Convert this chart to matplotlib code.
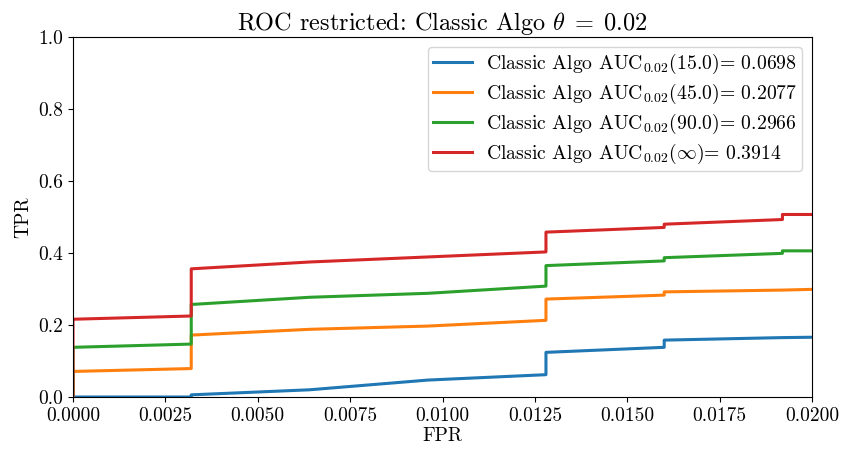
import matplotlib
matplotlib.use("Agg")
import matplotlib.pyplot as plt

plt.rcParams['font.family'] = 'cmr10'
plt.rcParams['mathtext.fontset'] = 'cm'
plt.rcParams['axes.unicode_minus'] = False
plt.rcParams['axes.formatter.use_mathtext'] = True

labels = ["15.0", "45.0", "90.0", r"$\infty$"]
aucs = ["0.0698", "0.2077", "0.2966", "0.3914"]
colors = ["#1f77b4", "#ff7f0e", "#2ca02c", "#d62728"]

fpr_blue = [0.0, 0.0032, 0.0032, 0.0064, 0.0096, 0.0128, 0.0128, 0.0160, 0.0160, 0.0192, 0.0200]
tpr_blue = [0.0, 0.000, 0.006, 0.020, 0.047, 0.062, 0.124, 0.138, 0.158, 0.165, 0.166]

fpr_orange = [0.0, 0.0, 0.0032, 0.0032, 0.0064, 0.0096, 0.0128, 0.0128, 0.0160, 0.0160, 0.0192, 0.0200]
tpr_orange = [0.0, 0.071, 0.079, 0.172, 0.188, 0.197, 0.213, 0.272, 0.283, 0.292, 0.297, 0.299]

fpr_green = [0.0, 0.0, 0.0032, 0.0032, 0.0064, 0.0096, 0.0128, 0.0128, 0.0160, 0.0160, 0.0192, 0.0192, 0.0200]
tpr_green = [0.0, 0.138, 0.147, 0.257, 0.277, 0.288, 0.308, 0.365, 0.378, 0.387, 0.399, 0.406, 0.406]

fpr_red = [0.0, 0.0, 0.0032, 0.0032, 0.0064, 0.0096, 0.0128, 0.0128, 0.0160, 0.0160, 0.0192, 0.0192, 0.0200]
tpr_red = [0.0, 0.216, 0.225, 0.356, 0.375, 0.389, 0.403, 0.458, 0.471, 0.480, 0.493, 0.507, 0.507]

fprs = [fpr_blue, fpr_orange, fpr_green, fpr_red]
tprs = [tpr_blue, tpr_orange, tpr_green, tpr_red]

fig = plt.figure(figsize=(8.42, 4.54), dpi=100)
ax = fig.add_axes([73/842, 1-397/454, (812-73)/842, (397-37)/454])
for f, t, lab, a, c in zip(fprs, tprs, labels, aucs, colors):
    ax.plot(f, t, color=c, lw=2.2,
            label=r"Classic Algo AUC$_{0.02}$(" + lab + ")= " + a)
ax.set_xlim(0, 0.02)
ax.set_ylim(0, 1.0)
ax.set_xticks([0.0, 0.0025, 0.005, 0.0075, 0.01, 0.0125, 0.015, 0.0175, 0.02])
ax.set_xticklabels(["0.0000", "0.0025", "0.0050", "0.0075", "0.0100", "0.0125", "0.0150", "0.0175", "0.0200"])
ax.set_yticks([0.0, 0.2, 0.4, 0.6, 0.8, 1.0])
ax.set_yticklabels(["0.0", "0.2", "0.4", "0.6", "0.8", "1.0"])
ax.tick_params(labelsize=14)
ax.set_xlabel("FPR", fontsize=14, labelpad=2)
ax.set_ylabel("TPR", fontsize=14, labelpad=4)
ax.set_title(r"ROC restricted: Classic Algo $\theta\;=\;0.02$", fontsize=17.5, pad=5)
ax.legend(loc="upper right", fontsize=14.2, labelspacing=0.3, borderpad=0.25,
          handletextpad=0.7)
fig.savefig("out.png", dpi=100)
